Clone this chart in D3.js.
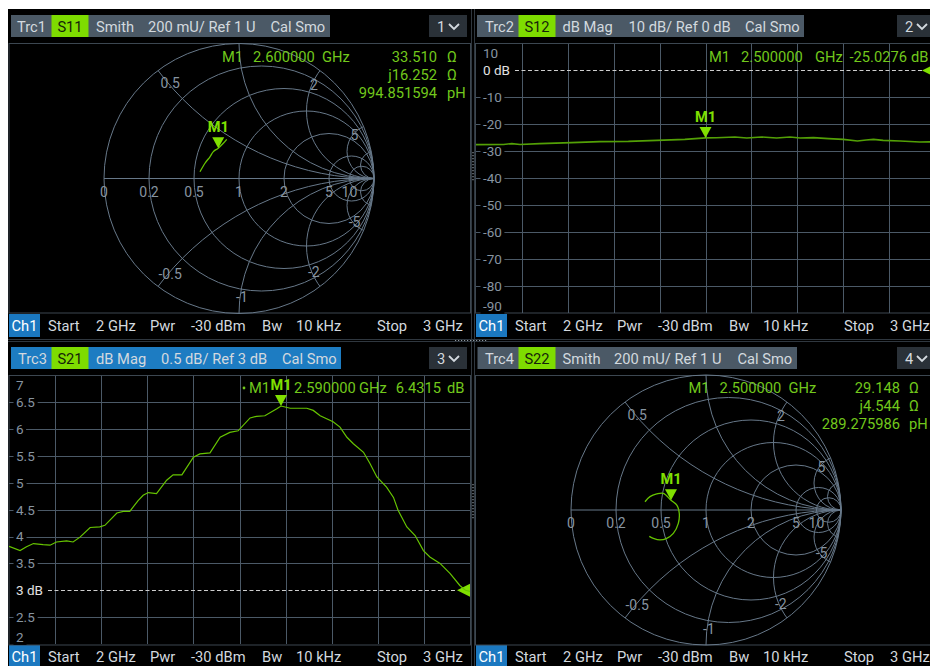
<!DOCTYPE html>
<html>
<head>
<meta charset="utf-8">
<title>VNA four-trace display</title>
<script src="https://cdn.jsdelivr.net/npm/d3@7/dist/d3.min.js"></script>
<style>
  html, body { margin: 0; padding: 0; background: #ffffff; }
  svg { display: block; }
  text { font-family: Roboto, "Noto Sans", "DejaVu Sans", sans-serif; }
</style>
</head>
<body>
<svg id="screen" width="930" height="666"></svg>
<script>
// ---------------- sweep settings (channel 1) ----------------
const sweepStartGHz = 2;
const sweepStopGHz = 3;
const freqGridGHz = [2.1, 2.2, 2.3, 2.4, 2.5, 2.6, 2.7, 2.8, 2.9];
const footerLabels = ['Start', '2 GHz', 'Pwr', '-30 dBm', 'Bw', '10 kHz', 'Stop', '3 GHz'];
const Z0 = 50;

// ---------------- Trc1 : S11, Smith ----------------
const s11FreqGHz = [2.00, 2.15, 2.30, 2.42, 2.60, 2.80, 3.00];
const s11GammaRe = [-0.289, -0.252, -0.215, -0.190, -0.154, -0.116, -0.091];
const s11GammaIm = [0.050, 0.113, 0.161, 0.199, 0.2245, 0.261, 0.290];
const s11Marker = [2.6, 33.510, 16.252];          // GHz, R (ohm), X (ohm)
const s11MarkerL = '994.851594';                   // pH

// ---------------- Trc2 : S12, dB Mag ----------------
const s12FreqGHz = [2.000, 2.060, 2.078, 2.096, 2.139, 2.208, 2.270, 2.332, 2.394, 2.455, 2.500, 2.524, 2.564, 2.590,
                    2.622, 2.655, 2.684, 2.706, 2.735, 2.768, 2.800, 2.831, 2.850, 2.866, 2.887, 2.924, 2.967, 3.000];
const s12Db = [-27.53, -27.45, -27.16, -27.50, -27.16, -26.79, -26.42, -26.30, -25.93, -25.56, -25.03, -25.00, -24.69, -25.06,
               -24.69, -25.06, -24.69, -25.06, -24.94, -25.31, -25.56, -26.17, -25.80, -25.56, -25.93, -26.17, -26.54, -26.50];
const s12Ticks = [10, 0, -10, -20, -30, -40, -50, -60, -70, -80, -90];
const s12Ref = 0;
const s12Marker = [2.5, -25.0276];

// ---------------- Trc3 : S21, dB Mag ----------------
const s21FreqGHz = [2.000, 2.024, 2.038, 2.053, 2.074, 2.089, 2.103, 2.125, 2.139, 2.154, 2.176, 2.197, 2.208, 2.234,
                    2.248, 2.262, 2.280, 2.291, 2.302, 2.320, 2.342, 2.356, 2.375, 2.400, 2.414, 2.436, 2.458, 2.479,
                    2.497, 2.523, 2.537, 2.555, 2.581, 2.590, 2.610, 2.646, 2.660, 2.675, 2.703, 2.718, 2.733, 2.747,
                    2.769, 2.783, 2.798, 2.819, 2.834, 2.844, 2.863, 2.881, 2.899, 2.913, 2.935, 2.957, 2.978, 2.990, 3.000];
const s21Db = [3.82, 3.74, 3.81, 3.87, 3.85, 3.84, 3.90, 3.92, 3.90, 3.99, 4.17, 4.18, 4.21, 4.44,
               4.47, 4.47, 4.67, 4.77, 4.82, 4.80, 5.05, 5.15, 5.15, 5.48, 5.54, 5.56, 5.85, 5.94,
               5.97, 6.21, 6.24, 6.25, 6.38, 6.4315, 6.39, 6.39, 6.35, 6.25, 6.14, 6.04, 5.85, 5.73,
               5.57, 5.36, 5.11, 4.92, 4.73, 4.49, 4.18, 4.02, 3.74, 3.62, 3.50, 3.31, 3.09, 3.00, 2.98];
const s21Ticks = [7, 6.5, 6, 5.5, 5, 4.5, 4, 3.5, 3, 2.5, 2];
const s21Ref = 3;
const s21Marker = [2.59, 6.4315];

// ---------------- Trc4 : S22, Smith ----------------
const s22FreqGHz = [2.00, 2.10, 2.20, 2.32, 2.50, 2.58, 2.65, 2.72, 2.79, 2.85, 2.90, 2.95, 3.00];
const s22GammaRe = [-0.452, -0.415, -0.365, -0.316, -0.2593, -0.215, -0.198, -0.205, -0.242, -0.291, -0.341, -0.390, -0.420];
const s22GammaIm = [0.061, 0.099, 0.119, 0.124, 0.0723, 0.035, -0.024, -0.099, -0.173, -0.210, -0.222, -0.210, -0.195];
const s22Marker = [2.5, 29.148, 4.544];
const s22MarkerL = '289.275986';

// ---------------- Smith grid ----------------
const smithR = [0.2, 0.5, 1, 2, 5, 10];
const smithX = [0.5, 1, 2, 5, 10];
const smithRLabels = ['0', '0.2', '0.5', '1', '2', '5', '10'];
const smithXLabels = ['0.5', '2', '5', '-0.5', '-1', '-2', '-5'];

// ---------------- colours ----------------
const col = {
  screen: '#000000', frame: '#2f373f', border: '#3c4751', grid: '#4b5967', smith: '#677889',
  tick: '#8794a0', ref: '#e2e2e2', bar: '#4b5966', barActive: '#1d7cc2', param: '#7edc00',
  paramText: '#15230a', menu: '#2a3138', text: '#d3d9df', ch: '#1b78c0', trace: '#66c400',
  traceDim: '#53a006', mText: '#72c81c', mark: '#80e000'
};
const FS = 14.7;

const svg = d3.select('#screen');
svg.append('rect').attr('x', 8).attr('y', 9).attr('width', 922).attr('height', 657).attr('fill', col.screen);

function label(g, x, yc, s, o = {}) {
  const fs = o.size || FS;
  return g.append('text')
    .attr('x', x).attr('y', yc + fs * 0.36)
    .attr('font-size', fs)
    .attr('fill', o.fill || col.text)
    .attr('text-anchor', o.anchor || 'start')
    .attr('font-weight', o.weight || null)
    .text(s);
}

// ---------- panel frames / separators ----------
const frames = svg.append('g').attr('fill', 'none').attr('stroke', col.frame);
frames.append('line').attr('x1', 471.5).attr('x2', 471.5).attr('y1', 9).attr('y2', 666);
frames.append('line').attr('x1', 474.5).attr('x2', 474.5).attr('y1', 9).attr('y2', 666);
frames.append('line').attr('x1', 8).attr('x2', 930).attr('y1', 339.5).attr('y2', 339.5);
frames.append('line').attr('x1', 8).attr('x2', 930).attr('y1', 341.5).attr('y2', 341.5);
const grips = svg.append('g').attr('stroke', '#8d979f').attr('stroke-width', 1.2).attr('stroke-dasharray', '1.2,1.8');
grips.append('line').attr('x1', 473).attr('x2', 473).attr('y1', 152).attr('y2', 182);
grips.append('line').attr('x1', 473).attr('x2', 473).attr('y1', 484).attr('y2', 520);
grips.append('line').attr('x1', 455).attr('x2', 488).attr('y1', 340.5).attr('y2', 340.5);

// ---------- trace header bars ----------
function header(h) {
  const g = svg.append('g');
  g.append('rect').attr('x', h.bar[0]).attr('y', h.y).attr('width', h.bar[1] - h.bar[0]).attr('height', 22)
    .attr('fill', h.active ? col.barActive : col.bar);
  g.append('rect').attr('x', h.box[0]).attr('y', h.y).attr('width', h.box[1] - h.box[0]).attr('height', 22)
    .attr('fill', col.param);
  const yc = h.y + 11.5;
  label(g, h.items[0][1], yc, h.items[0][0]);
  label(g, (h.box[0] + h.box[1]) / 2, yc, h.param, { anchor: 'middle', fill: col.paramText });
  h.items.slice(1).forEach(([s, x]) => label(g, x, yc, s));
  // channel selector
  g.append('rect').attr('x', h.menu).attr('y', h.y).attr('width', 38).attr('height', 22).attr('fill', col.menu);
  label(g, h.menu + 8, yc, h.num);
  g.append('path')
    .attr('d', `M${h.menu + 20},${yc - 2.5} L${h.menu + 25},${yc + 2.5} L${h.menu + 30},${yc - 2.5}`)
    .attr('fill', 'none').attr('stroke', col.text).attr('stroke-width', 1.8);
}
header({ y: 15, bar: [11, 330], box: [51.5, 88.5], param: 'S11', num: '1', menu: 429,
  items: [['Trc1', 17], ['Smith', 96], ['200 mU/ Ref 1 U', 148], ['Cal Smo', 270.5]] });
header({ y: 15, bar: [477, 804], box: [518.5, 555.5], param: 'S12', num: '2', menu: 897,
  items: [['Trc2', 485], ['dB Mag', 562.5], ['10 dB/ Ref 0 dB', 628.5], ['Cal Smo', 745]] });
header({ y: 347, bar: [11, 341], box: [51.5, 88.5], param: 'S21', num: '3', menu: 429, active: true,
  items: [['Trc3', 18], ['dB Mag', 96], ['0.5 dB/ Ref 3 dB', 161], ['Cal Smo', 282]] });
header({ y: 347, bar: [477.5, 797], box: [518.5, 555.5], param: 'S22', num: '4', menu: 897,
  items: [['Trc4', 485], ['Smith', 562.5], ['200 mU/ Ref 1 U', 614], ['Cal Smo', 737.5]] });

// ---------- channel footers ----------
function footer(dx, yc) {
  const g = svg.append('g');
  g.append('rect').attr('x', 9 + dx).attr('y', yc - 11.5).attr('width', 31).attr('height', 23).attr('fill', col.ch);
  label(g, 24.5 + dx, yc, 'Ch1', { anchor: 'middle', fill: '#ffffff' });
  const xs = [48, 96, 150, 191, 262, 296, 377, 423];
  footerLabels.forEach((s, i) => label(g, xs[i] + dx, yc, s));
}
footer(0, 325.5);
footer(467, 325.5);
footer(0, 656.5);
footer(467, 656.5);

// ---------- plot areas ----------
function plotArea(l, t, r, b, id) {
  svg.append('defs').append('clipPath').attr('id', id)
    .append('rect').attr('x', l).attr('y', t).attr('width', r - l).attr('height', b - t);
  svg.append('rect').attr('x', l).attr('y', t).attr('width', r - l).attr('height', b - t)
    .attr('fill', 'none').attr('stroke', col.border);
}

// ---------- markers ----------
function markerGlyph(g, mx, my) {
  g.append('path')
    .attr('d', `M${mx},${my} L${mx - 6},${my - 11} L${mx + 6},${my - 11} Z`)
    .attr('fill', col.mark);
  label(g, mx, my - 21, 'M1', { anchor: 'middle', fill: col.mark, weight: 'bold', size: 14.5 });
}

// ---------- Smith chart ----------
function smithChart(cx, cy, R, clipId, re, im, marker, markerL, info) {
  const sx = d3.scaleLinear().domain([-1, 1]).range([cx - R, cx + R]);
  const sy = d3.scaleLinear().domain([-1, 1]).range([cy + R, cy - R]);
  const len = v => sx(v) - sx(0);
  svg.append('defs').append('clipPath').attr('id', clipId)
    .append('circle').attr('cx', cx).attr('cy', cy).attr('r', R);

  const g = svg.append('g');
  const grid = g.append('g').attr('fill', 'none').attr('stroke', col.smith).attr('stroke-width', 1);
  grid.append('circle').attr('cx', cx).attr('cy', cy).attr('r', R);
  grid.selectAll('circle.res').data(smithR).join('circle').attr('class', 'res')
    .attr('cx', r => sx(r / (1 + r))).attr('cy', cy).attr('r', r => len(1 / (1 + r)));
  grid.append('g').attr('clip-path', `url(#${clipId})`)
    .selectAll('circle').data(smithX.flatMap(x => [x, -x])).join('circle')
    .attr('cx', sx(1)).attr('cy', x => sy(1 / x)).attr('r', x => len(1 / Math.abs(x)));
  grid.append('line').attr('x1', sx(-1)).attr('x2', sx(1)).attr('y1', cy).attr('y2', cy);

  // resistance labels along the real axis
  const rVals = [0].concat(smithR);
  smithRLabels.forEach((s, i) => {
    const r = rVals[i];
    label(g, sx((r - 1) / (r + 1)), cy + 13, s, { anchor: 'middle', fill: col.tick, size: 14 });
  });
  // reactance labels near the rim
  smithXLabels.forEach(s => {
    const x = +s;
    const rho = Math.abs(x) >= 5 ? 0.9 : 0.88;
    const a = rho * rho;
    const r = ((1 + a) - Math.sqrt((1 + a) ** 2 - (1 - a) ** 2 * (1 + x * x))) / (1 - a);
    const d = (r + 1) ** 2 + x * x;
    label(g, sx((r * r - 1 + x * x) / d) + 2, sy(2 * x / d), s, { anchor: 'middle', fill: col.tick, size: 14 });
  });

  // trace
  g.append('path')
    .datum(d3.range(re.length))
    .attr('fill', 'none').attr('stroke', col.trace).attr('stroke-width', 1.3)
    .attr('d', d3.line().x(i => sx(re[i])).y(i => sy(im[i])).curve(d3.curveCatmullRom));

  // marker from its stated impedance
  const zr = marker[1] / Z0, zx = marker[2] / Z0;
  const dd = (zr + 1) ** 2 + zx * zx;
  const gRe = (zr * zr - 1 + zx * zx) / dd, gIm = 2 * zx / dd;
  markerGlyph(g, sx(gRe), sy(gIm));

  // marker readout
  const y0 = info.y;
  label(g, info.x, y0, 'M1', { fill: col.mText });
  label(g, info.x + 31, y0, marker[0].toFixed(6), { fill: col.mText });
  label(g, info.x + 100, y0, 'GHz', { fill: col.mText });
  const vals = [[marker[1].toFixed(3), 'Ω'], ['j' + marker[2].toFixed(3), 'Ω'], [markerL, 'pH']];
  vals.forEach(([v, u], i) => {
    label(g, info.valRight, y0 + i * 18, v, { fill: col.mText, anchor: 'end' });
    label(g, info.unitX, y0 + i * 18, u, { fill: col.mText });
  });
}

plotArea(9, 43.5, 470.5, 313, 'clipTL');
smithChart(239, 178.5, 135, 'smithTL', s11GammaRe, s11GammaIm, s11Marker, s11MarkerL,
  { x: 222, y: 57, valRight: 437, unitX: 447 });

plotArea(9, 375.5, 470.5, 645, 'clipBL');
plotArea(475.5, 43.5, 940, 313, 'clipTR');
plotArea(475.5, 375.5, 940, 645, 'clipBR');
smithChart(706, 510, 135, 'smithBR', s22GammaRe, s22GammaIm, s22Marker, s22MarkerL,
  { x: 688.5, y: 388, valRight: 900, unitX: 909 });

// ---------- dB magnitude diagrams ----------
function dbChart(p) {
  const x = d3.scaleLinear().domain([sweepStartGHz, sweepStopGHz]).range([p.l, p.r]);
  const y = d3.scaleLinear().domain([p.ticks[p.ticks.length - 1], p.ticks[0]]).range([p.b, p.t]);
  const g = svg.append('g');
  const grid = g.append('g').attr('stroke', col.grid).attr('stroke-width', 1).attr('clip-path', `url(#${p.clip})`);
  grid.selectAll('line.v').data(freqGridGHz).join('line').attr('class', 'v')
    .attr('x1', d => Math.round(x(d)) + 0.5).attr('x2', d => Math.round(x(d)) + 0.5).attr('y1', p.t).attr('y2', p.b);
  grid.selectAll('line.h').data(p.ticks.slice(1, -1).filter(v => v !== p.ref)).join('line').attr('class', 'h')
    .attr('x1', p.l).attr('x2', p.r).attr('y1', d => Math.round(y(d)) + 0.5).attr('y2', d => Math.round(y(d)) + 0.5);

  // tick labels on black plates
  let refEnd = p.l;
  p.ticks.forEach(v => {
    const isRef = v === p.ref;
    const yc = Math.min(Math.max(y(v), p.t + 9.5), p.b - 7);
    const t = label(g, p.l + 7, yc, isRef ? `${v} dB` : `${v}`, { size: 13.5, fill: isRef ? col.ref : col.tick });
    const bb = t.node().getBBox();
    g.insert('rect', () => t.node())
      .attr('x', bb.x - 2.5).attr('y', bb.y).attr('width', bb.width + 5).attr('height', bb.height).attr('fill', '#000');
    if (isRef) refEnd = bb.x + bb.width + 5;
  });

  // reference line + reference arrow
  const yr = Math.round(y(p.ref)) + 0.5;
  g.append('line').attr('x1', refEnd).attr('x2', p.r - 13).attr('y1', yr).attr('y2', yr)
    .attr('stroke', '#cfcfcf').attr('stroke-dasharray', '4,2.5');
  g.append('path').attr('d', `M${p.r - 13},${y(p.ref)} L${p.r},${y(p.ref) - 6.5} L${p.r},${y(p.ref) + 6.5} Z`)
    .attr('fill', col.mark);

  // trace
  g.append('path')
    .datum(d3.range(p.freq.length))
    .attr('clip-path', `url(#${p.clip})`)
    .attr('fill', 'none').attr('stroke', p.color).attr('stroke-width', p.width)
    .attr('d', d3.line().x(i => x(p.freq[i])).y(i => y(p.vals[i])));

  // marker
  markerGlyph(g, x(p.marker[0]), y(p.marker[1]));
  return g;
}

const gTR = dbChart({ l: 476, r: 935, t: 43.5, b: 313, clip: 'clipTR', ticks: s12Ticks, ref: s12Ref,
  freq: s12FreqGHz, vals: s12Db, marker: s12Marker, color: col.traceDim, width: 1.6 });
label(gTR, 709, 57, 'M1', { fill: col.mText });
label(gTR, 741, 57, s12Marker[0].toFixed(6), { fill: col.mText });
label(gTR, 815, 57, 'GHz', { fill: col.mText });
label(gTR, 907, 57, s12Marker[1].toFixed(4), { fill: col.mText, anchor: 'end' });
label(gTR, 911, 57, 'dB', { fill: col.mText });

const gBL = dbChart({ l: 9, r: 470, t: 375.5, b: 644, clip: 'clipBL', ticks: s21Ticks, ref: s21Ref,
  freq: s21FreqGHz, vals: s21Db, marker: s21Marker, color: col.trace, width: 1.2 });
// readout row; kept clear of the marker flag above the peak
gBL.append('circle').attr('cx', 244).attr('cy', 388).attr('r', 1.4).attr('fill', col.mText);
label(gBL, 249, 388, 'M1', { fill: col.mText });
label(gBL, 294, 388, s21Marker[0].toFixed(6), { fill: col.mText });
label(gBL, 359, 388, 'GHz', { fill: col.mText });
label(gBL, 441, 388, s21Marker[1].toFixed(4), { fill: col.mText, anchor: 'end' });
label(gBL, 447, 388, 'dB', { fill: col.mText });
</script>
</body>
</html>
